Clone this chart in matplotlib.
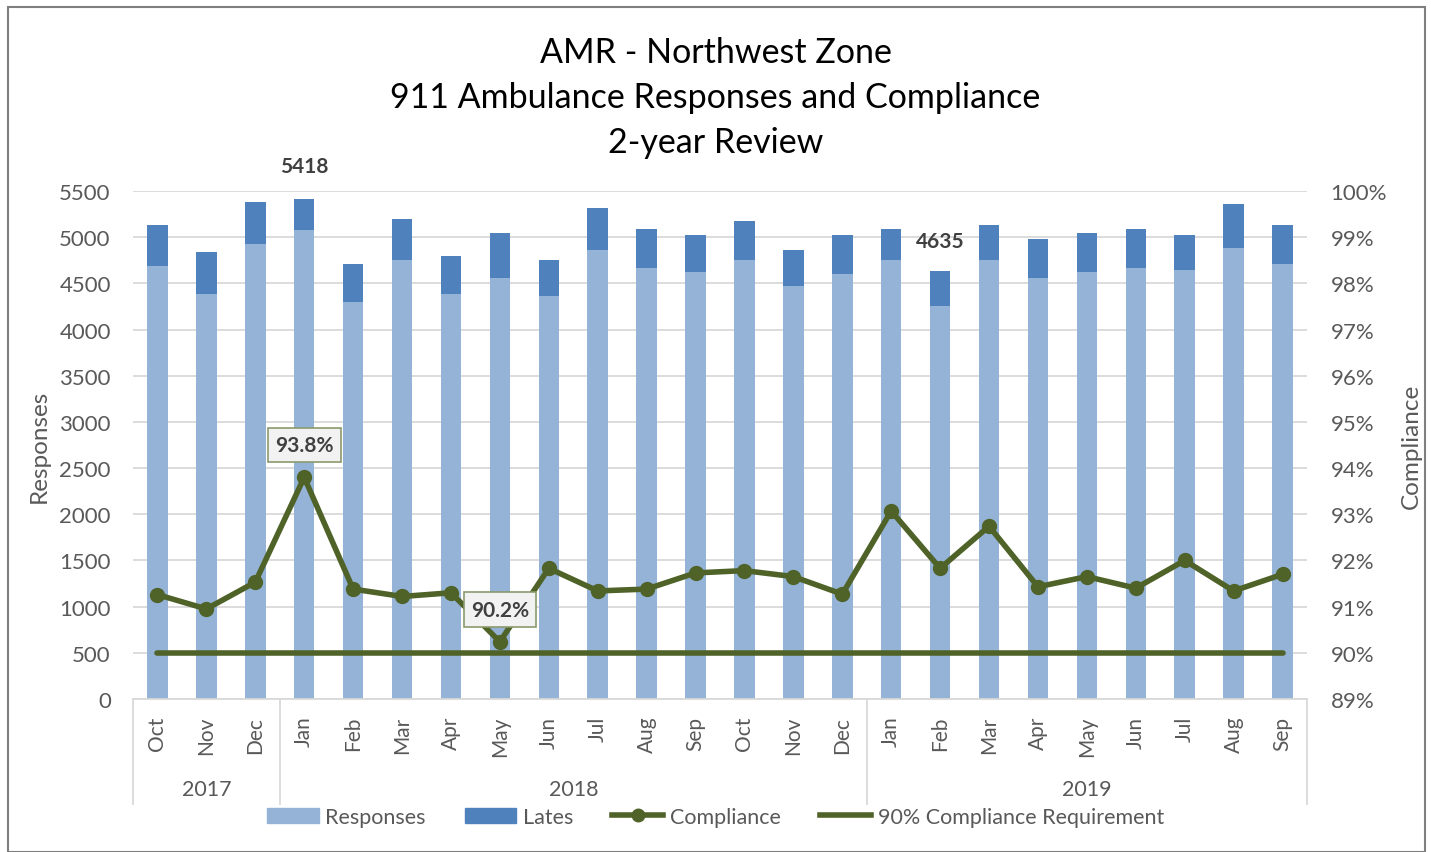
import matplotlib
matplotlib.use("Agg")
import matplotlib.pyplot as plt
from matplotlib.patches import Rectangle
from matplotlib.lines import Line2D
from matplotlib.ticker import FuncFormatter
import numpy as np

plt.rcParams['font.family'] = ['Lato', 'DejaVu Sans']

months = ["Oct", "Nov", "Dec", "Jan", "Feb", "Mar", "Apr", "May", "Jun", "Jul", "Aug", "Sep",
          "Oct", "Nov", "Dec", "Jan", "Feb", "Mar", "Apr", "May", "Jun", "Jul", "Aug", "Sep"]
years = ["2017", "2018", "2019"]
year_spans = [(0, 2), (3, 14), (15, 23)]
responses = [4685, 4384, 4927, 5079, 4297, 4753, 4384, 4558, 4362, 4862, 4666, 4623,
             4753, 4471, 4601, 4753, 4253, 4753, 4558, 4623, 4666, 4645, 4883, 4710]
totals = [5137, 4837, 5376, 5418, 4707, 5202, 4793, 5050, 4750, 5311, 5093, 5028,
          5180, 4859, 5028, 5093, 4635, 5137, 4985, 5050, 5093, 5028, 5354, 5137]
lates = [t - r for t, r in zip(totals, responses)]
compliance = [91.26, 90.95, 91.53, 93.8, 91.38, 91.22, 91.30, 90.24, 91.83, 91.34, 91.38, 91.73,
              91.78, 91.65, 91.27, 93.07, 91.83, 92.74, 91.43, 91.65, 91.40, 92.0, 91.34, 91.70]
requirement = [90.0] * 24

c_resp = "#95B3D7"
c_late = "#4F81BD"
c_comp = "#4F6228"
c_grid = "#D9D9D9"
c_text = "#595959"

fig = plt.figure(figsize=(14.31, 8.53), dpi=100)
W, H = 1431, 853
ax = fig.add_axes([133 / W, 1 - 700 / H, (1307 - 133) / W, (700 - 192) / H])
ax2 = ax.twinx()

x = np.arange(len(months))
ax.bar(x, responses, width=0.42, color=c_resp, zorder=2, label="Responses")
ax.bar(x, lates, bottom=responses, width=0.42, color=c_late, zorder=2, label="Lates")
ax.set_ylim(0, 5500)
ax.set_yticks(range(0, 5501, 500))
ax.set_xlim(-0.5, 23.5)
ax.grid(axis='y', color=c_grid, lw=1.3, zorder=0)
ax.set_axisbelow(True)
for s in ["top", "left", "right"]:
    ax.spines[s].set_visible(False)
ax.spines["bottom"].set_color(c_grid)
ax.spines["bottom"].set_linewidth(1.3)
ax.tick_params(axis='y', length=0, labelsize=16, labelcolor=c_text, pad=16)
ax.set_xticks(x)
ax.set_xticklabels(months, rotation=90, fontsize=15, color=c_text)
ax.tick_params(axis='x', length=0, pad=12)
ax.set_ylabel("Responses", fontsize=17.5, color=c_text, labelpad=7)

ax2.plot(x, requirement, color=c_comp, lw=4, solid_capstyle='round', zorder=3)
ax2.plot(x, compliance, color=c_comp, lw=4, marker='o', markersize=10, zorder=4)
ax2.set_ylim(89, 100)
ax2.set_yticks(range(89, 101))
ax2.yaxis.set_major_formatter(FuncFormatter(lambda v, p: f"{v:.0f}%"))
for s in ["top", "left", "right", "bottom"]:
    ax2.spines[s].set_visible(False)
ax2.tick_params(axis='y', length=0, labelsize=16, labelcolor=c_text, pad=17)
ax2.set_ylabel("Compliance", fontsize=17.5, color=c_text, labelpad=10)

# data labels
i_max = int(np.argmax(totals))
ax.annotate(f"{totals[i_max]}", (x[i_max], totals[i_max]), xytext=(0, 16),
            textcoords="offset points", ha="center", va="bottom",
            fontsize=15, fontweight="bold", color="#404040")
i_min = int(np.argmin(totals))
ax.annotate(f"{totals[i_min]}", (x[i_min], totals[i_min]), xytext=(0, 14),
            textcoords="offset points", ha="center", va="bottom",
            fontsize=15, fontweight="bold", color="#404040")
bbox = dict(boxstyle="square,pad=0.35", fc="#F2F2F2", ec="#8A9A6B", lw=1.2)
j_max = int(np.argmax(compliance))
ax2.annotate(f"{compliance[j_max]:.1f}%", (x[j_max], compliance[j_max]), xytext=(0, 16),
             textcoords="offset points", ha="center", va="bottom",
             fontsize=15, fontweight="bold", color="#404040", bbox=bbox, zorder=6)
j_min = int(np.argmin(compliance))
ax2.annotate(f"{compliance[j_min]:.1f}%", (x[j_min], compliance[j_min]), xytext=(0, 16),
             textcoords="offset points", ha="center", va="bottom",
             fontsize=15, fontweight="bold", color="#404040", bbox=bbox, zorder=6)

# category groups
trans = ax.get_xaxis_transform()
low = -(805 - 700) / (700 - 192)
for b in [-0.5, 2.5, 14.5, 23.5]:
    ax.plot([b, b], [0, low], transform=trans, color=c_grid, lw=1.3, clip_on=False)
for yr, (a, b) in zip(years, year_spans):
    ax.text((a + b) / 2, -(790 - 700) / (700 - 192), yr, transform=trans,
            ha="center", va="center", fontsize=15.5, color=c_text)

# title
fig.text(0.5, 1 - 98 / H, "AMR - Northwest Zone\n911 Ambulance Responses and Compliance\n2-year Review",
         ha="center", va="center", fontsize=24.5, color="#000000", linespacing=1.5)

# legend
handles = [
    Rectangle((0, 0), 1, 1, color=c_resp),
    Rectangle((0, 0), 1, 1, color=c_late),
    Line2D([], [], color=c_comp, lw=4, marker='o', markersize=9),
    Line2D([], [], color=c_comp, lw=4),
]
labels = ["Responses", "Lates", "Compliance", "90% Compliance Requirement"]
fig.legend(handles, labels, loc="center", bbox_to_anchor=(0.5, 1 - 818 / H), ncol=4,
           frameon=False, fontsize=15.5, labelcolor=c_text, handlelength=2.4,
           handletextpad=0.3, columnspacing=1.8)

# border
fig.patches.append(Rectangle((8 / W, 0), (1425 - 8) / W, 1 - 8 / H, transform=fig.transFigure,
                             fill=False, ec="#7F7F7F", lw=1.5))

fig.savefig("out.png", dpi=100)
